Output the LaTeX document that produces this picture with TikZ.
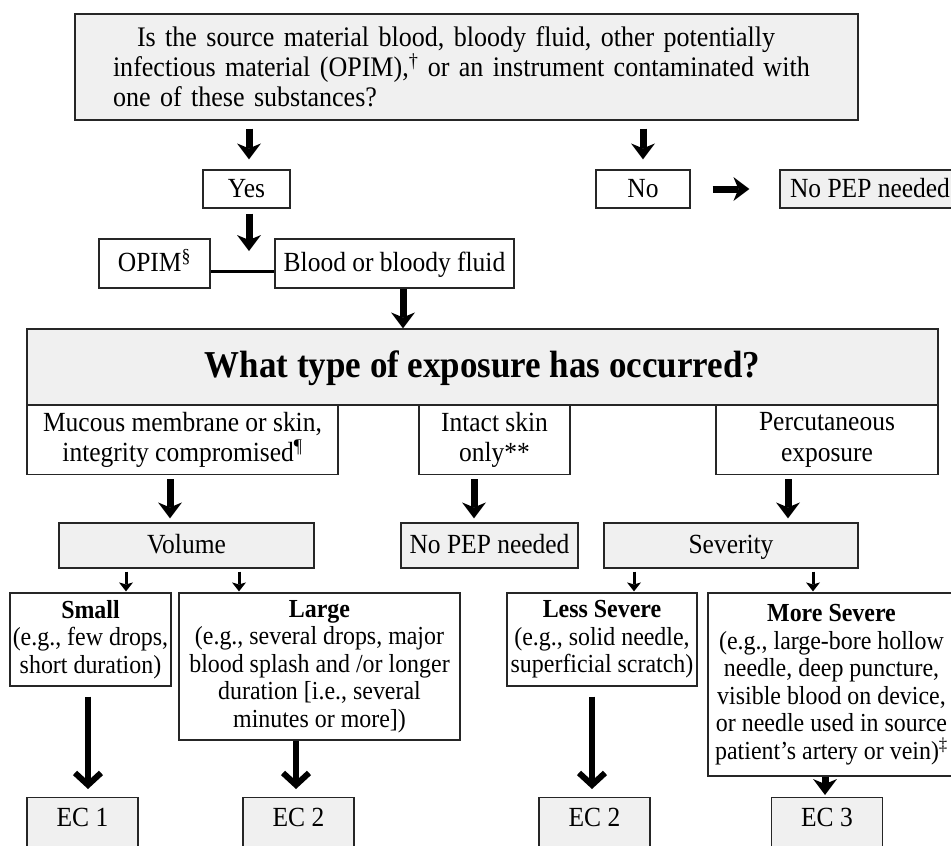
\documentclass[tikz,border=0pt]{standalone}
\usepackage{fontspec}
\setmainfont{Liberation Serif}[FakeStretch=0.92]
\usepackage{tikz}
\usetikzlibrary{positioning,arrows.meta}

\definecolor{boxgray}{RGB}{240,240,240}

\tikzset{
  plainbox/.style={draw=black!85, line width=1.2pt, fill=white, inner sep=0pt,
    align=center, font=\fontsize{27.7}{28}\selectfont},
  greybox/.style={plainbox, fill=boxgray},
  oneline/.style={text height=20pt, text depth=4pt},
  midbox/.style={plainbox, minimum height=69pt, font=\fontsize{27.7}{30.5}\selectfont},
  lowbox/.style={plainbox, font=\fontsize{26}{27.5}\selectfont},
  ecbox/.style={greybox, anchor=north, minimum width=111pt, text height=29pt, text depth=30pt},
  bigarrow/.style={line width=7pt, -{Stealth[length=16pt,width=24pt,inset=5pt,line width=0pt]}},
  thinarrow/.style={line width=3pt, -{Stealth[length=9pt,width=14pt,inset=2pt,line width=0pt]}},
  longarrow/.style={line width=6pt, -{Straight Barb[length=12pt,width=26pt]}},
  joinline/.style={line width=2.5pt}
}

\begin{document}
\begin{tikzpicture}[x=1pt, y=-1pt]
  \useasboundingbox (0,0) rectangle (951,846);

  \node[greybox, minimum width=783pt, minimum height=106pt, text width=707pt, align=left,
        font=\fontsize{28.3}{30}\selectfont] (q) at (466.5,67)
    {\hspace*{24pt}Is the source material blood, bloody fluid, other potentially\\
     infectious material (OPIM),\textsuperscript{†} or an instrument contaminated with\\
     one of these substances?};

  \node[plainbox, oneline, minimum width=87pt,  minimum height=38pt] (yes)    at (246.5,189) {Yes};
  \node[plainbox, oneline, minimum width=94pt,  minimum height=38pt] (no)     at (643,189)   {No};
  \node[greybox,  oneline, minimum width=180pt, minimum height=38pt] (nopepA) at (870,189)   {No PEP needed};

  \node[plainbox, oneline, minimum width=111pt, minimum height=49pt] (opim)   at (154.5,263.5) {OPIM\textsuperscript{§}};
  \node[plainbox, oneline, minimum width=239pt, minimum height=49pt] (blood)  at (394.5,263.5) {Blood or bloody fluid};
  \coordinate (split) at (249,251);

  \node[greybox, minimum width=911pt, minimum height=76pt, text height=27pt, text depth=6pt,
        font=\fontsize{38}{40}\selectfont\bfseries] (what) at (482.5,367)
    {What type of exposure has occurred?};

  \node[midbox, minimum width=311pt] (mucous) at (182.5,440) {Mucous membrane or skin,\\integrity compromised\textsuperscript{¶}};
  \node[midbox, minimum width=151pt] (intact) at (494.5,440) {Intact skin\\only**};
  \node[midbox, minimum width=222pt] (percut) at (827,440)   {Percutaneous\\exposure};

  \node[greybox, oneline, minimum width=255pt, minimum height=45pt] (volume)   at (186.5,545.5) {Volume};
  \node[greybox, oneline, minimum width=177pt, minimum height=45pt] (nopepB)   at (489.5,545.5) {No PEP needed};
  \node[greybox, oneline, minimum width=254pt, minimum height=45pt] (severity) at (731,545.5)   {Severity};

  \node[lowbox, minimum width=161pt, minimum height=93pt]  (small) at (90.5,639.5)
    {\textbf{Small}\\(e.g., few drops,\\short duration)};
  \node[lowbox, minimum width=281pt, minimum height=147pt] (large) at (319.5,666.5)
    {\textbf{Large}\\(e.g., several drops, major\\blood splash and /or longer\\duration [i.e., several\\minutes or more])};
  \node[lowbox, minimum width=190pt, minimum height=93pt]  (less)  at (602,639.5)
    {\textbf{Less Severe}\\(e.g., solid needle,\\superficial scratch)};
  \node[lowbox, minimum width=247pt, minimum height=183pt] (more)  at (831.5,684.5)
    {\textbf{More Severe}\\(e.g., large-bore hollow\\needle, deep puncture,\\visible blood on device,\\or needle used in source\\patient’s artery or vein)\textsuperscript{‡}};

  \node[ecbox] (ecA) at (82.5,797)  {EC 1};
  \node[ecbox] (ecB) at (298.5,797) {EC 2};
  \node[ecbox] (ecC) at (594.5,797) {EC 2};
  \node[ecbox] (ecD) at (827,797)   {EC 3};

  \draw[bigarrow, shorten <=8pt, shorten >=10pt] (q.south -| 249,0) -- (yes.north -| 249,0);
  \draw[bigarrow, shorten <=8pt, shorten >=10pt] (q.south -| no.north) -- (no.north);
  \draw[bigarrow, shorten <=22pt, shorten >=30pt] (no.east) -- (nopepA.west);
  \draw[bigarrow, shorten <=5pt] (yes.south -| split) -- (split);
  \draw[joinline] ([yshift=-8pt]opim.east) -- ([yshift=-8pt]blood.west);
  \draw[bigarrow] (blood.south -| 403,0) -- (what.north -| 403,0);

  \draw[bigarrow, shorten <=4pt, shorten >=4pt] (mucous.south -| 170,0) -- (volume.north -| 170,0);
  \draw[bigarrow, shorten <=4pt, shorten >=4pt] (intact.south -| 474,0) -- (nopepB.north -| 474,0);
  \draw[bigarrow, shorten <=4pt, shorten >=4pt] (percut.south -| 788,0) -- (severity.north -| 788,0);

  \draw[thinarrow, shorten <=3pt, shorten >=1pt] (volume.south -| 126,0)   -- (small.north -| 126,0);
  \draw[thinarrow, shorten <=3pt, shorten >=1pt] (volume.south -| 239,0)   -- (large.north -| 239,0);
  \draw[thinarrow, shorten <=3pt, shorten >=1pt] (severity.south -| 634,0) -- (less.north -| 634,0);
  \draw[thinarrow, shorten <=3pt, shorten >=1pt] (severity.south -| 813,0) -- (more.north -| 813,0);

  \draw[longarrow, shorten <=10pt, shorten >=8pt] (small.south -| 88,0)  -- (ecA.north -| 88,0);
  \draw[longarrow, shorten >=8pt]                 (large.south -| 296,0) -- (ecB.north -| 296,0);
  \draw[longarrow, shorten <=10pt, shorten >=8pt] (less.south -| 592,0)  -- (ecC.north -| 592,0);
  \draw[bigarrow, shorten >=2pt]                  (more.south -| 825,0)  -- (ecD.north -| 825,0);
\end{tikzpicture}
\end{document}
